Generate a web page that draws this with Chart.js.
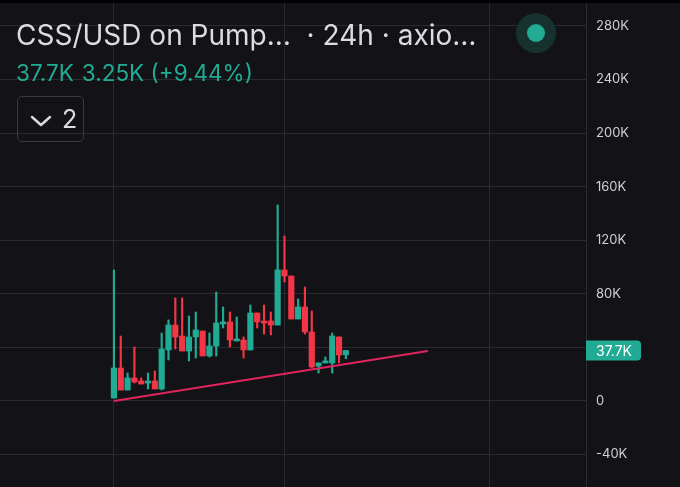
<!DOCTYPE html>
<html>
<head>
<meta charset="utf-8">
<script src="https://cdn.jsdelivr.net/npm/chart.js@4.4.0/dist/chart.umd.min.js"></script>
<style>
  html, body { margin: 0; padding: 0; background: #131317; }
  #wrap { position: relative; width: 680px; height: 487px; overflow: hidden; font-family: Inter, "Noto Sans", sans-serif; }
  #myChart { position: absolute; left: 0; top: 0; }
  #topbar { position: absolute; left: 0; top: 0; width: 680px; height: 3px; background: #000; }
  .title { position: absolute; left: 16px; top: 21px; font-size: 28px; line-height: 28px; color: #dcdcdf; white-space: nowrap; }
  .stats { position: absolute; left: 16px; top: 62px; font-size: 22.5px; line-height: 22px; color: #22ab94; white-space: nowrap; }
  .stats span { margin-right: 8px; }
  .box { position: absolute; left: 17px; top: 96px; width: 65px; height: 44px; border: 1px solid #3a3a40; border-radius: 5px; }
  .box svg { position: absolute; left: 12px; top: 18px; }
  .box .n { position: absolute; left: 44px; top: 10px; font-size: 25px; line-height: 25px; color: #dcdcdf; }
  .halo { position: absolute; left: 516px; top: 13px; width: 40px; height: 40px; border-radius: 50%; background: #17322e; }
  .dot { position: absolute; left: 11px; top: 11px; width: 18px; height: 18px; border-radius: 50%; background: #22ab94; }
</style>
</head>
<body>
<div id="wrap">
  <canvas id="myChart" width="680" height="487"></canvas>
  <div id="topbar"></div>
  <div class="title">CSS/USD on Pump…&nbsp; · 24h · axio…</div>
  <div class="stats"><span>37.7K</span>3.25K (+9.44%)</div>
  <div class="box">
    <svg width="22" height="12" viewBox="0 0 22 12"><polyline points="2,2 11,10 20,2" fill="none" stroke="#dcdcdf" stroke-width="2.4" stroke-linecap="round" stroke-linejoin="round"/></svg>
    <div class="n">2</div>
  </div>
  <div class="halo"><div class="dot"></div></div>
</div>
<script>
// candles, values in thousands of USD
var opens  = [2.2, 24.6, 8.2, 17.2, 14.9, 13.4, 14.9, 9.0, 38.1, 56.7, 48.5, 37.3, 47.8, 52.2, 33.6, 41.0, 57.5, 59.0,
              44.8, 45.5, 38.1, 65.7, 59.7, 59.7, 56.7, 97.8, 93.3, 61.2, 70.2, 51.5, 26.1, 28.4, 28.4, 47.8, 34.45];
var closes = [24.6, 8.2, 17.2, 14.2, 12.7, 14.9, 9.0, 38.8, 56.7, 47.8, 37.3, 47.8, 53.0, 33.6, 41.0, 58.2, 59.0, 45.5,
              46.3, 38.1, 65.7, 59.0, 58.2, 56.7, 97.8, 93.3, 61.2, 70.2, 51.5, 25.4, 28.4, 29.1, 48.5, 34.3, 37.7];
var highs  = [97.8, 48.5, 20.9, 40.3, 17.2, 20.9, 22.4, 50.7, 60.5, 76.9, 76.9, 63.4, 66.4, 52.2, 50.7, 81.3, 70.2, 66.4,
              62.7, 47.8, 71.6, 65.7, 71.6, 66.4, 146.3, 123.1, 93.3, 76.1, 85.1, 67.2, 28.4, 32.8, 50.7, 47.8, 37.7];
var lows   = [2.2, 8.2, 8.2, 13.4, 12.7, 9.0, 9.0, 8.2, 30.6, 38.8, 37.3, 29.9, 32.1, 33.6, 32.8, 33.6, 54.5, 40.3,
              44.8, 32.1, 38.1, 54.5, 50.0, 49.3, 56.7, 88.8, 61.2, 61.2, 50.0, 24.6, 20.9, 28.4, 20.9, 28.4, 31.5];

// drawn trend line (candle index, value)
var trendX = [0, 46];
var trendY = [0.0, 37.3];

var yTicks = [-40, 0, 40, 80, 120, 160, 200, 240, 280];
var xGridTicks = [0, 25, 55];

var upColor = '#22ab94';
var downColor = '#f23645';
var gridColor = '#2a2a30';
var lastClose = closes[closes.length - 1];

document.addEventListener("DOMContentLoaded", function() {
    var wicks = [], bodies = [], colors = [];
    for (var i = 0; i < opens.length; i++) {
        wicks.push({ x: i, y: [lows[i], highs[i]] });
        bodies.push({ x: i, y: [opens[i], closes[i]] });
        colors.push(closes[i] >= opens[i] ? upColor : downColor);
    }
    var trend = trendX.map(function(x, i) { return { x: x, y: trendY[i] }; });

    // last price badge on the price scale
    var priceBadge = {
        id: 'priceBadge',
        afterDraw: function(chart) {
            var c = chart.ctx;
            var y = chart.scales.y.getPixelForValue(lastClose);
            var left = chart.chartArea.right;
            c.save();
            c.fillStyle = upColor;
            c.beginPath();
            c.roundRect(left, y - 10, 55, 20, [0, 4, 4, 0]);
            c.fill();
            c.fillStyle = '#ffffff';
            c.font = '14px Inter';
            c.textAlign = 'left';
            c.textBaseline = 'middle';
            c.fillText(lastClose.toFixed(1) + 'K', left + 10, y + 1);
            c.restore();
        }
    };

    var ctx = document.getElementById('myChart').getContext('2d');
    var myChart = new Chart(ctx, {
        type: 'bar',
        data: {
            datasets: [{
                type: 'line',
                data: trend,
                borderColor: '#e0245e',
                borderWidth: 2,
                pointRadius: 0,
                order: 0
            }, {
                data: bodies,
                backgroundColor: colors,
                barThickness: 5.5,
                minBarLength: 2,
                grouped: false,
                order: 1
            }, {
                data: wicks,
                backgroundColor: colors,
                barThickness: 1.5,
                grouped: false,
                order: 2
            }]
        },
        options: {
            responsive: false,
            animation: false,
            layout: { padding: 0 },
            plugins: {
                legend: { display: false },
                tooltip: { enabled: false }
            },
            scales: {
                x: {
                    type: 'linear',
                    min: -16.7,
                    max: 69.2,
                    offset: false,
                    afterBuildTicks: function(scale) {
                        scale.ticks = xGridTicks.map(function(v) { return { value: v }; });
                    },
                    grid: { color: gridColor, drawTicks: false, offset: false },
                    border: { display: false },
                    ticks: { display: false }
                },
                y: {
                    position: 'right',
                    min: -64.2,
                    max: 299.3,
                    afterBuildTicks: function(scale) {
                        scale.ticks = yTicks.map(function(v) { return { value: v }; });
                    },
                    afterFit: function(scale) {
                        scale.width = 94;
                        scale.paddingTop = 0;
                        scale.paddingBottom = 0;
                    },
                    grid: { color: gridColor, drawTicks: false },
                    border: { display: true, color: '#2c2c32' },
                    ticks: {
                        padding: 10,
                        color: '#cfcfd4',
                        font: { family: 'Inter', size: 13 },
                        callback: function(v) {
                            if (Math.abs(v - lastClose) < 8) return '';
                            return v === 0 ? '0' : v + 'K';
                        }
                    }
                }
            }
        },
        plugins: [priceBadge]
    });
});
</script>
</body>
</html>
